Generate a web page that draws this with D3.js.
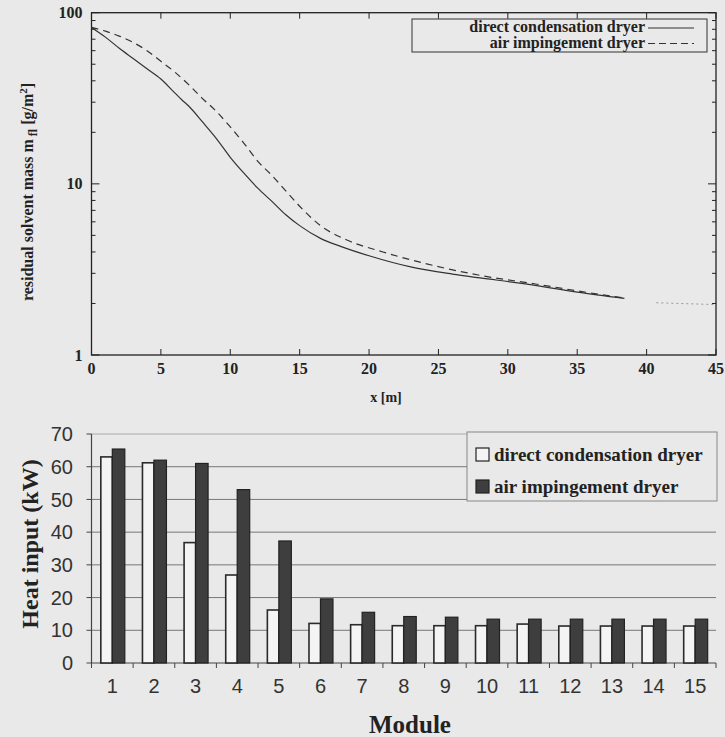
<!DOCTYPE html>
<html lang="en">
<head>
<meta charset="UTF-8">
<title>Residual solvent mass and heat input</title>
<script src="https://d3js.org/d3.v7.min.js"></script>
<style>
  body { margin: 0; background: #e9e9e9; }
  svg { display: block; }
  .serif { font-family: "Liberation Serif", "DejaVu Serif", serif; font-weight: bold; }
  .sans { font-family: "Liberation Sans", Arial, sans-serif; }
</style>
</head>
<body>
<svg id="chart" width="725" height="737"></svg>
<script>
// top chart: residual solvent mass along the dryer
const condX = [0, 1, 2, 3, 4, 5, 6, 6.5, 7, 8, 9, 10, 11, 12, 13, 14, 15, 16.5, 18, 20, 23, 26, 28, 31, 35, 38.4];
const condY = [82, 72, 62, 54, 47, 41, 34, 31, 28.5, 23, 18.4, 14.3, 11.5, 9.4, 7.9, 6.6, 5.7, 4.8, 4.3, 3.8, 3.27, 2.97, 2.82, 2.62, 2.33, 2.14];
const airX = [0, 1, 2, 3, 4, 5, 6, 7, 8, 9, 10, 11, 12, 13, 14, 15, 16.5, 18.4, 21, 23, 28, 32, 35, 38.4];
const airY = [82, 78, 73, 67, 60, 52, 45, 38, 31.5, 26.5, 21.5, 17.2, 13.5, 11.2, 9.1, 7.4, 5.7, 4.7, 4.0, 3.6, 2.92, 2.6, 2.37, 2.15];
const fadedX = [40.7, 45];
const fadedY = [2.02, 1.97];
const xTicksTop = [0, 5, 10, 15, 20, 25, 30, 35, 40, 45];
const yTicksTop = [1, 10, 100];

// bottom chart: heat input per module
const modules = ["1", "2", "3", "4", "5", "6", "7", "8", "9", "10", "11", "12", "13", "14", "15"];
const condHeat = [63, 61.2, 36.8, 26.9, 16.2, 12.1, 11.7, 11.4, 11.4, 11.4, 11.9, 11.3, 11.3, 11.3, 11.3];
const airHeat = [65.4, 62, 61, 53, 37.3, 19.6, 15.5, 14.2, 14.0, 13.4, 13.4, 13.4, 13.4, 13.4, 13.4];
const yTicksBottom = [0, 10, 20, 30, 40, 50, 60, 70];

const svg = d3.select("#chart");

// ---------- top chart ----------
const m1 = { left: 91.5, right: 716, top: 12.7, bottom: 355 };
const x1 = d3.scaleLinear().domain([0, 45]).range([m1.left, m1.right]);
const y1 = d3.scaleLog().domain([1, 100]).range([m1.bottom, m1.top]);
const minor = [];
[1, 10].forEach(d => { for (let k = 2; k <= 9; k++) minor.push(d * k); });

const g1 = svg.append("g");

g1.append("rect")
  .attr("x", m1.left).attr("y", m1.top)
  .attr("width", m1.right - m1.left).attr("height", m1.bottom - m1.top)
  .attr("fill", "none").attr("stroke", "#222").attr("stroke-width", 1.3);

// ticks on all four sides, pointing inward
const tickLines = (vals, len, side) => {
  g1.selectAll(null).data(vals).enter().append("line")
    .attr("stroke", "#222").attr("stroke-width", 1)
    .attr("x1", d => side === "left" ? m1.left : side === "right" ? m1.right : x1(d))
    .attr("x2", d => side === "left" ? m1.left + len : side === "right" ? m1.right - len : x1(d))
    .attr("y1", d => side === "bottom" ? m1.bottom : side === "top" ? m1.top : y1(d))
    .attr("y2", d => side === "bottom" ? m1.bottom - len : side === "top" ? m1.top + len : y1(d));
};
tickLines(xTicksTop, 6, "bottom");
tickLines(xTicksTop, 6, "top");
tickLines(yTicksTop, 8, "left");
tickLines(yTicksTop, 8, "right");
tickLines(minor, 4, "left");
tickLines(minor, 4, "right");

g1.selectAll(".xl").data(xTicksTop).enter().append("text")
  .attr("class", "serif").attr("font-size", 16).attr("fill", "#222")
  .attr("text-anchor", "middle")
  .attr("x", d => x1(d)).attr("y", m1.bottom + 19)
  .text(d => d);

g1.selectAll(".yl").data(yTicksTop).enter().append("text")
  .attr("class", "serif").attr("font-size", 16).attr("fill", "#222")
  .attr("text-anchor", "end")
  .attr("x", m1.left - 9).attr("y", d => y1(d)).attr("dy", "0.35em")
  .text(d => d);

g1.append("text").attr("class", "serif").attr("font-size", 14).attr("fill", "#222")
  .attr("text-anchor", "middle").attr("x", 386).attr("y", 402)
  .text("x [m]");

const yLab = g1.append("text").attr("class", "serif").attr("font-size", 16).attr("fill", "#222")
  .attr("text-anchor", "middle")
  .attr("transform", "translate(33,192) rotate(-90)");
yLab.append("tspan").text("residual solvent mass m");
yLab.append("tspan").attr("font-size", 12).attr("dy", 4).text(" fl");
yLab.append("tspan").attr("dy", -4).text(" [g/m");
yLab.append("tspan").attr("font-size", 11).attr("dy", -6).text("2");
yLab.append("tspan").attr("dy", 6).text("]");

const line1 = d3.line().x(d => x1(d[0])).y(d => y1(d[1])).curve(d3.curveMonotoneX);

g1.append("path").datum(d3.zip(condX, condY))
  .attr("d", line1).attr("fill", "none").attr("stroke", "#333").attr("stroke-width", 1.2);
g1.append("path").datum(d3.zip(airX, airY))
  .attr("d", line1).attr("fill", "none").attr("stroke", "#333").attr("stroke-width", 1.2)
  .attr("stroke-dasharray", "7,5");
g1.append("path").datum(d3.zip(fadedX, fadedY))
  .attr("d", line1).attr("fill", "none").attr("stroke", "#999").attr("stroke-width", 1)
  .attr("stroke-dasharray", "2,3");

// legend
const leg1 = g1.append("g");
leg1.append("rect").attr("x", 412).attr("y", 19).attr("width", 295).attr("height", 33)
  .attr("fill", "#e9e9e9").attr("stroke", "#333").attr("stroke-width", 1);
[["direct condensation dryer", null, 32], ["air impingement dryer", "7,4", 47.5]].forEach(([t, dash, yy]) => {
  leg1.append("text").attr("class", "serif").attr("font-size", 16).attr("fill", "#222")
    .attr("text-anchor", "end").attr("x", 645).attr("y", yy).text(t);
  leg1.append("line").attr("x1", 648).attr("x2", 694).attr("y1", yy - 4).attr("y2", yy - 4)
    .attr("stroke", "#333").attr("stroke-width", 1.2).attr("stroke-dasharray", dash);
});

// ---------- bottom chart ----------
const m2 = { left: 91.5, right: 716, top: 434, bottom: 663 };
const x2 = d3.scaleBand().domain(modules).range([m2.left, m2.right]).paddingInner(0.4).paddingOuter(0.2);
const xs = d3.scaleBand().domain(["cond", "air"]).range([0, x2.bandwidth()]);
const y2 = d3.scaleLinear().domain([0, 70]).range([m2.bottom, m2.top]);

const g2 = svg.append("g");

g2.selectAll(".grid").data(yTicksBottom.slice(1)).enter().append("line")
  .attr("x1", m2.left).attr("x2", m2.right)
  .attr("y1", d => y2(d)).attr("y2", d => y2(d))
  .attr("stroke", d => d === 70 ? "#aaa" : "#777").attr("stroke-width", 1);

g2.append("line").attr("x1", m2.left).attr("x2", m2.left).attr("y1", m2.top).attr("y2", m2.bottom)
  .attr("stroke", "#444").attr("stroke-width", 1.2);
g2.append("line").attr("x1", m2.left).attr("x2", m2.right).attr("y1", m2.bottom).attr("y2", m2.bottom)
  .attr("stroke", "#444").attr("stroke-width", 1.2);

g2.selectAll(".yt").data(yTicksBottom).enter().append("line")
  .attr("x1", m2.left - 5).attr("x2", m2.left)
  .attr("y1", d => y2(d)).attr("y2", d => y2(d))
  .attr("stroke", "#444");

const step = x2.step();
g2.selectAll(".xt").data(d3.range(modules.length + 1)).enter().append("line")
  .attr("x1", d => m2.left + d * step).attr("x2", d => m2.left + d * step)
  .attr("y1", m2.bottom).attr("y2", m2.bottom + 5)
  .attr("stroke", "#444");

g2.selectAll(".ylab").data(yTicksBottom).enter().append("text")
  .attr("class", "sans").attr("font-size", 20).attr("fill", "#333")
  .attr("text-anchor", "end")
  .attr("x", 73).attr("y", d => y2(d)).attr("dy", "0.36em")
  .text(d => d);

g2.selectAll(".xlab").data(modules).enter().append("text")
  .attr("class", "sans").attr("font-size", 20).attr("fill", "#333")
  .attr("text-anchor", "middle")
  .attr("x", d => x2(d) + x2.bandwidth() / 2).attr("y", 693)
  .text(d => d);

// bars
const pairs = modules.map((m, i) => ({ m, cond: condHeat[i], air: airHeat[i] }));
const grp = g2.selectAll(".mod").data(pairs).enter().append("g")
  .attr("transform", d => `translate(${x2(d.m)},0)`);
grp.append("rect")
  .attr("x", xs("cond") + 1).attr("width", xs.bandwidth() - 1)
  .attr("y", d => y2(d.cond)).attr("height", d => y2(0) - y2(d.cond))
  .attr("fill", "#f4f4f4").attr("stroke", "#2a2a2a").attr("stroke-width", 1.6);
grp.append("rect")
  .attr("x", xs("air")).attr("width", xs.bandwidth())
  .attr("y", d => y2(d.air)).attr("height", d => y2(0) - y2(d.air))
  .attr("fill", "#3e3e3e").attr("stroke", "#222").attr("stroke-width", 1.2);

// axis titles
g2.append("text").attr("class", "serif").attr("font-size", 25).attr("fill", "#222")
  .attr("text-anchor", "middle").attr("x", 410).attr("y", 733)
  .text("Module");
g2.append("text").attr("class", "serif").attr("font-size", 24).attr("fill", "#222")
  .attr("text-anchor", "middle").attr("transform", "translate(38,544) rotate(-90)")
  .text("Heat input (kW)");

// legend
const leg2 = g2.append("g");
leg2.append("rect").attr("x", 467).attr("y", 432).attr("width", 250).attr("height", 69)
  .attr("fill", "#e9e9e9").attr("stroke", "#888").attr("stroke-width", 1);
[["direct condensation dryer", "#f4f4f4", 461], ["air impingement dryer", "#3e3e3e", 493]].forEach(([t, c, yy]) => {
  leg2.append("rect").attr("x", 476).attr("y", yy - 13).attr("width", 13).attr("height", 13)
    .attr("fill", c).attr("stroke", "#222").attr("stroke-width", 1.2);
  leg2.append("text").attr("class", "serif").attr("font-size", 19).attr("fill", "#222")
    .attr("x", 494).attr("y", yy).text(t);
});
</script>
</body>
</html>
